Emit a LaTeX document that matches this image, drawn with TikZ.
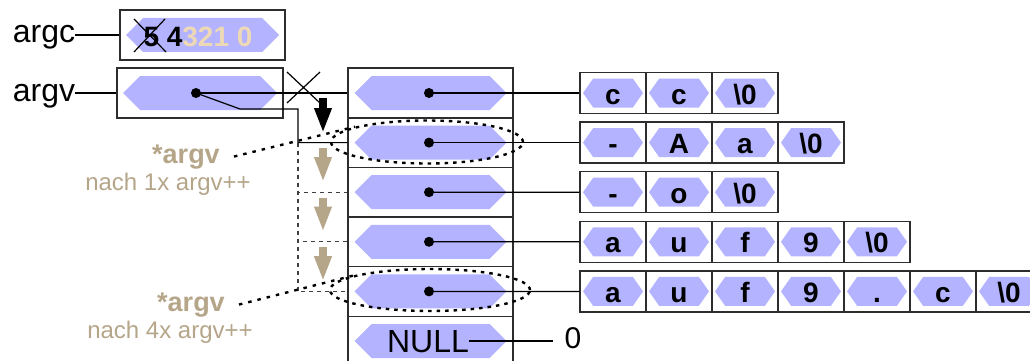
\documentclass[tikz,border=0pt]{standalone}
\usepackage{fontspec}
\setmainfont{Liberation Sans}
\usetikzlibrary{arrows.meta, positioning, calc, shapes.geometric, shapes.symbols}
\definecolor{hexfill}{RGB}{179,179,255}
\definecolor{tanlabel}{RGB}{181,165,137}
\definecolor{lighttan}{RGB}{238,217,182}
\definecolor{boxline}{RGB}{45,45,45}
\newcommand{\strend}{\textbackslash0}

\begin{document}
\begin{tikzpicture}[x=1pt, y=-1pt, every node/.style={inner sep=0pt},
  frame/.style={draw=boxline, line width=1.4pt},
  bighex/.style={signal, signal to=west and east, signal pointer angle=90, fill=hexfill, minimum width=152pt, minimum height=34pt},
  cellhex/.style={signal, signal to=west and east, signal pointer angle=110, fill=hexfill, minimum width=60pt, minimum height=29pt, font=\fontsize{28}{30}\selectfont\bfseries, text height=22pt, text depth=0pt},
  lbl/.style={font=\fontsize{32}{36}\selectfont, text height=16pt, text depth=0pt},
  ptr/.style={line width=1.2pt},
  guide/.style={draw=darkgray, line width=1.2pt, dash pattern=on 4pt off 4pt},
  halo/.style={ellipse, draw, line width=2.4pt, dash pattern=on 3.5pt off 5pt},
  labdots/.style={line width=2.4pt, dash pattern=on 3.5pt off 6pt},
  tanlbl/.style={text=tanlabel, anchor=base},
  shiftarrow/.style={line width=8pt, -{Triangle[length=25pt, width=16pt]}}]
  \useasboundingbox (0,0) rectangle (1030,361);

  \node[frame, minimum width=165pt, minimum height=50pt] (argcbox) at (202.5,35) {};
  \node[bighex, minimum width=153pt] (argchex) at (argcbox) {};
  \node[font=\fontsize{28}{30}\selectfont\bfseries, text height=24pt, text depth=0pt] (argcval) at (198,35) {5 4\textcolor{lighttan}{321 0}};
  \draw[ptr] (134,52) -- (165,19) (134,19) -- (166,52);
  \node[lbl, left=44pt of argcbox] (argclab) {argc};
  \draw[ptr] (argclab) -- (argcbox);

  \node[frame, minimum width=166pt, minimum height=50pt] (argvbox) at (200,93) {};
  \node[bighex, minimum width=154pt] (argvhex) at (argvbox) {};
  \coordinate (argvdot) at (196,93);
  \node[lbl, left=41pt of argvbox] (argvlab) {argv};
  \draw[ptr] (argvlab) -- (argvbox);

  \foreach \k in {1,...,6} {
    \node[frame, minimum width=165pt, minimum height=49.6pt] (r\k) at (430.5,{93+49.6*(\k-1)}) {};
    \node[bighex] (h\k) at (r\k) {};
  }
  \node[font=\fontsize{32}{36}\selectfont, text height=23pt, text depth=0pt] (nulltxt) at (428,341) {NULL};
  \node[font=\fontsize{30}{34}\selectfont, text height=21pt, text depth=0pt] (zero) at (573,338) {0};
  \draw[ptr] (nulltxt.east) -- ([xshift=-11pt]zero.west |- nulltxt.east);

  \foreach \y/\chars [count=\k] in {93/{c,c,\strend}, 142.6/{-,A,a,\strend}, 192.2/{-,o,\strend}, 241.8/{a,u,f,9,\strend}, 291.4/{a,u,f,9,{.},c,\strend}}
    \foreach \t [count=\i] in \chars {
      \node[frame, minimum width=66pt, minimum height=41pt] (s\k-\i) at ({547+66*\i},\y) {};
      \node[cellhex] (c\k-\i) at (s\k-\i) {\t};
    }

  \foreach \k in {1,...,5} {
    \fill (429,{93+49.6*(\k-1)}) coordinate (d\k) circle (5pt);
    \draw[ptr] (d\k) -- (s\k-1);
  }

  \fill (argvdot) circle (5pt);
  \draw[ptr] (argvdot) -- (r1);
  \draw[ptr] (287,72) -- (320,103) (287,103) -- (320,72);
  \draw[ptr] (argvdot) -- (240,109) -- (298,109) |- (r2.west);
  \coordinate (fork) at (298,142.6);
  \foreach \k in {3,4,5} \draw[guide] (fork) |- (r\k.west);

  \draw[shiftarrow, black] (323,98) -- (323,133);
  \foreach \y in {148,197.6,247.2} \draw[shiftarrow, tanlabel] (323,\y) -- (323,{\y+34});

  \node[halo, minimum width=192pt, minimum height=43pt] (e1) at (427,142) {};
  \node[halo, minimum width=200pt, minimum height=42pt] (e2) at (430,290) {};
  \node[tanlbl, font=\fontsize{27}{30}\selectfont\bfseries] (lab1) at (186,163) {*argv};
  \node[tanlbl, font=\fontsize{24}{28}\selectfont] (lab1n) at (168,190) {nach 1x argv++};
  \node[tanlbl, font=\fontsize{27}{30}\selectfont\bfseries] (lab2) at (191,311) {*argv};
  \node[tanlbl, font=\fontsize{24}{28}\selectfont] (lab2n) at (170,338) {nach 4x argv++};
  \draw[labdots] ([xshift=14pt]lab1.east) -- (e1.168);
  \draw[labdots] ([xshift=14pt]lab2.east) -- (e2.168);
\end{tikzpicture}
\end{document}
